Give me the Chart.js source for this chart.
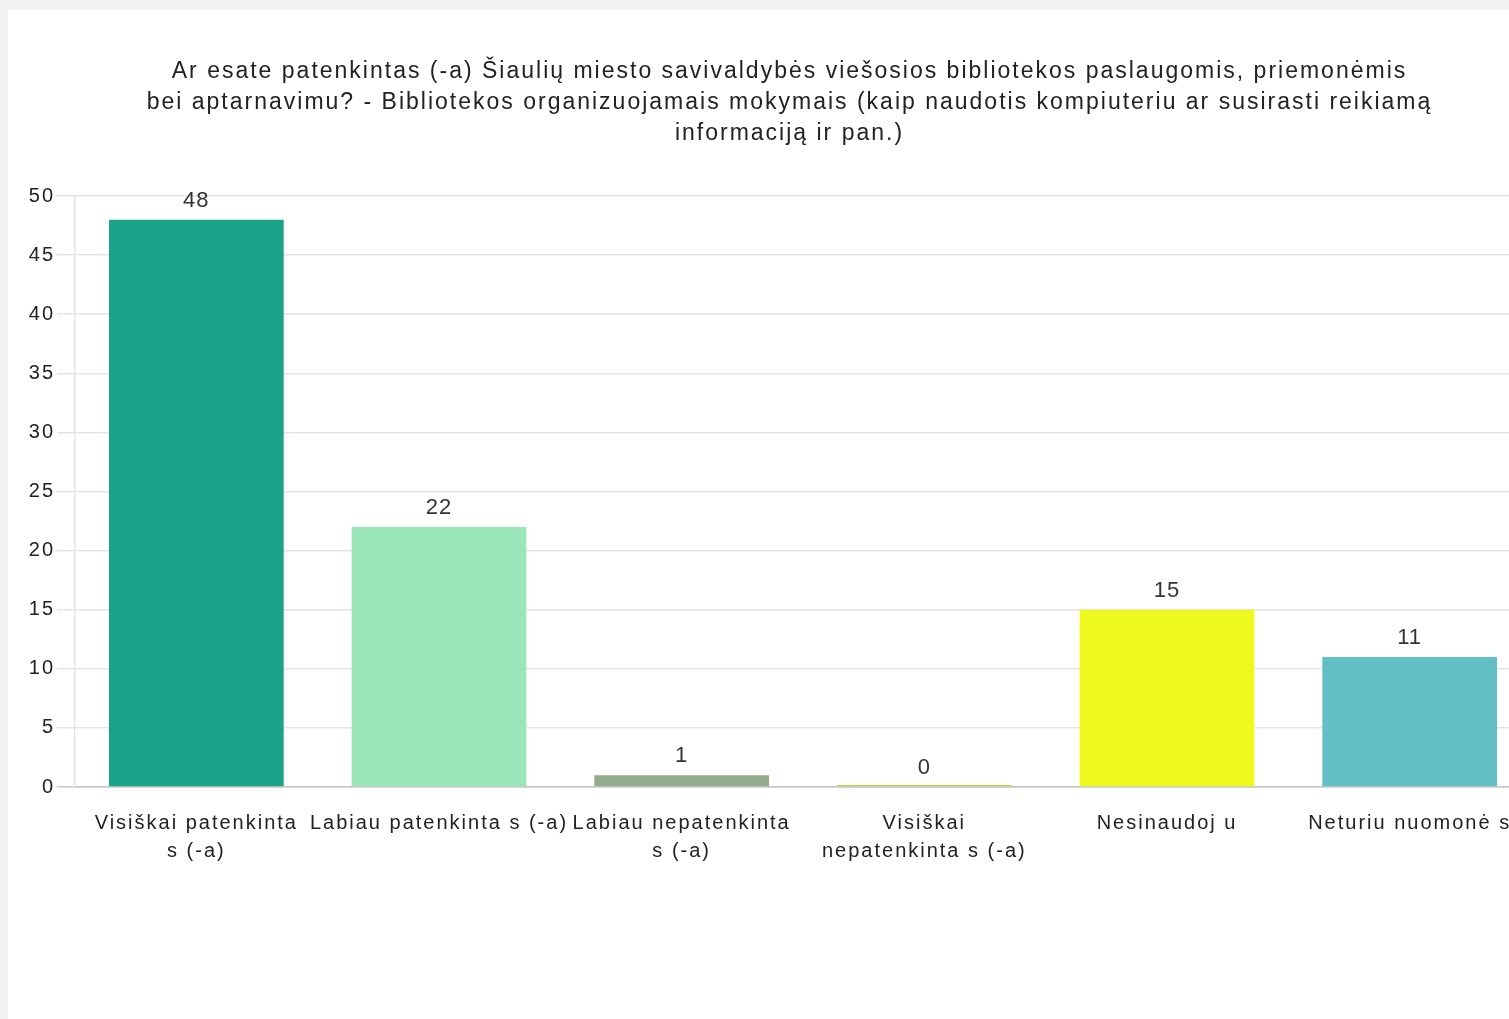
<!DOCTYPE html>
<html>
<head>
<meta charset="utf-8">
<script src="https://cdn.jsdelivr.net/npm/chart.js@4/dist/chart.umd.min.js"></script>
<style>
    html, body { margin: 0; padding: 0; background: #f2f2f2; overflow: hidden; }
    .wrap { position: absolute; left: 8px; top: 10px; width: 1523px; height: 1009px; background: #fff; }
</style>
</head>
<body>
<div class="wrap"><canvas class="myChart"></canvas></div>
<script>
var titleLines = [
    'Ar esate patenkintas (-a) Šiaulių miesto savivaldybės viešosios bibliotekos paslaugomis, priemonėmis',
    'bei aptarnavimu? - Bibliotekos organizuojamais mokymais (kaip naudotis kompiuteriu ar susirasti reikiamą',
    'informaciją ir pan.)'
];
var categories = [
    ['Visiškai patenkinta', 's (-a)'],
    'Labiau patenkinta s (-a)',
    ['Labiau nepatenkinta', 's (-a)'],
    ['Visiškai', 'nepatenkinta s (-a)'],
    'Nesinaudoj u',
    'Neturiu nuomonė s'
];
var values = [48, 22, 1, 0, 15, 11];
var barColors = ['#1ba38a', '#9ae6b8', '#93ad8c', '#b8d84a', '#eefa1e', '#62bfc5'];
var yTicks = [0, 5, 10, 15, 20, 25, 30, 35, 40, 45, 50];

var FONT = '"Liberation Sans", Arial, sans-serif';

// tekstas originale platesnis - pridedam tarpus tarp raidžių
var wideText = {
    id: 'wideText',
    beforeUpdate: function (chart) { chart.ctx.letterSpacing = '2px'; },
    beforeDraw: function (chart) { chart.ctx.letterSpacing = '2px'; },
    afterLayout: function (chart) {
        // originale pavadinimas centruotas platesniame plote (dešinė nukirpta)
        if (chart.titleBlock) {
            chart.titleBlock.left += 20;
            chart.titleBlock.right += 20;
        }
    }
};

// etiketės virš stulpelių
var valueLabels = {
    id: 'valueLabels',
    afterDatasetsDraw: function (chart) {
        var c = chart.ctx;
        var meta = chart.getDatasetMeta(0);
        c.save();
        c.letterSpacing = '1px';
        c.font = '22px ' + FONT;
        c.fillStyle = '#333333';
        c.textAlign = 'center';
        c.textBaseline = 'alphabetic';
        meta.data.forEach(function (bar, i) {
            var top = chart.scales.y.getPixelForValue(values[i]);
            c.fillText(String(values[i]), bar.x, top - 13);
        });
        c.restore();
    }
};

document.addEventListener('DOMContentLoaded', function () {
    var ctx = document.querySelector('.myChart');
    new Chart(ctx, {
        type: 'bar',
        data: {
            labels: categories,
            datasets: [{
                data: values,
                backgroundColor: barColors,
                borderWidth: 0,
                minBarLength: 2,
                barPercentage: 0.72,
                categoryPercentage: 1
            }]
        },
        options: {
            responsive: true,
            maintainAspectRatio: false,
            animation: false,
            layout: { padding: 0 },
            scales: {
                x: {
                    grid: { display: false },
                    border: { color: '#c8c8c8', width: 1.5 },
                    ticks: {
                        font: { family: FONT, size: 20, lineHeight: 1.4 },
                        color: '#222222',
                        padding: 14,
                        maxRotation: 0,
                        autoSkip: false
                    },
                    afterFit: function (scale) { scale.height = 232; }
                },
                y: {
                    min: 0,
                    max: 50,
                    afterBuildTicks: function (scale) {
                        scale.ticks = yTicks.map(function (v) { return { value: v }; });
                    },
                    grid: {
                        color: function (c) { return c.tick && c.tick.value === 0 ? '#c8c8c8' : '#e4e4e4'; },
                        lineWidth: 1.5,
                        tickLength: 18
                    },
                    border: { color: '#e4e4e4', width: 1.5 },
                    ticks: {
                        font: { family: FONT, size: 20 },
                        color: '#222222',
                        padding: 2
                    },
                    afterFit: function (scale) { scale.width = 67; }
                }
            },
            plugins: {
                legend: { display: false },
                tooltip: { enabled: false },
                title: {
                    display: true,
                    text: titleLines,
                    color: '#222222',
                    font: { family: FONT, size: 23, weight: 'normal', lineHeight: 1.348 },
                    padding: { top: 46, bottom: 47 }
                }
            }
        },
        plugins: [wideText, valueLabels]
    });
});
</script>
</body>
</html>
